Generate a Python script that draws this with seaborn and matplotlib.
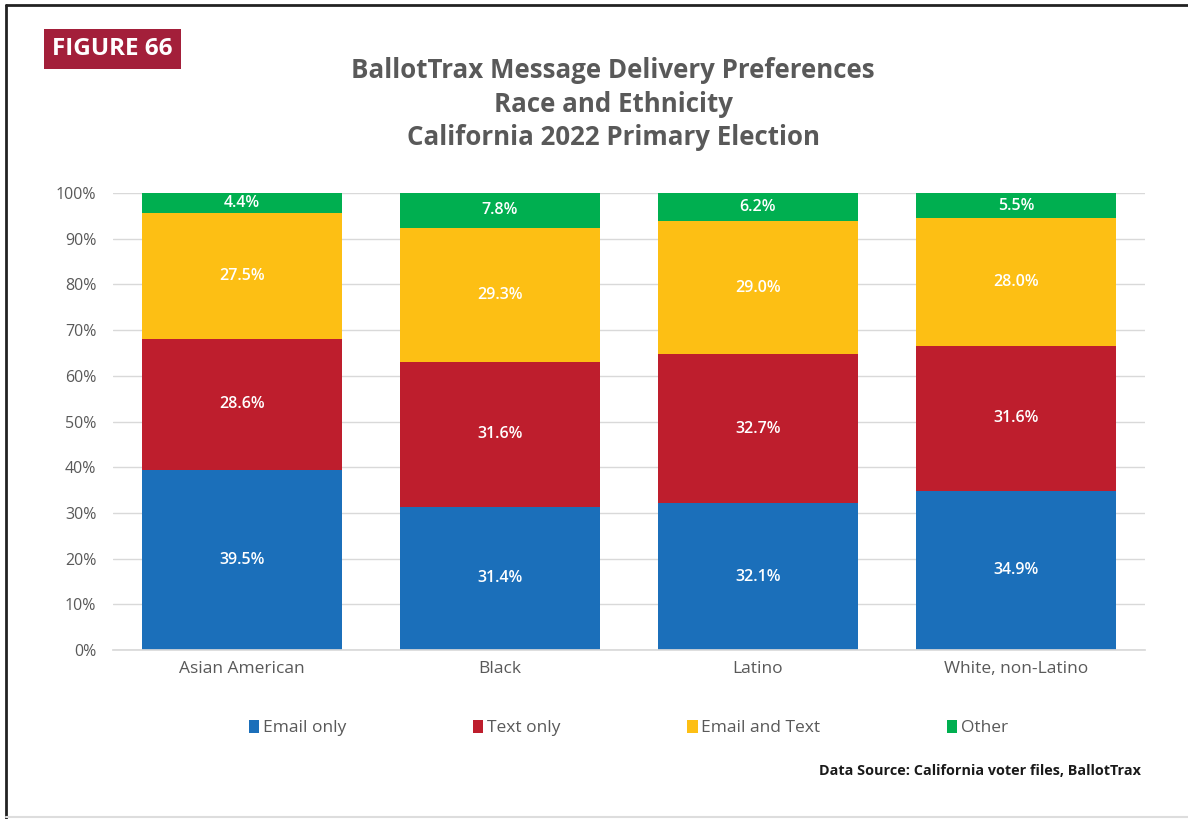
import pandas as pd
import matplotlib.pyplot as plt
import seaborn as sns
from matplotlib.patches import Patch

# Chart data
groups = ['Asian American', 'Black', 'Latino', 'White, non-Latino']
series = ['Email only', 'Text only', 'Email and Text', 'Other']
email_only = [39.5, 31.4, 32.1, 34.9]
text_only = [28.6, 31.6, 32.7, 31.6]
email_and_text = [27.5, 29.3, 29.0, 28.0]
other = [4.4, 7.8, 6.2, 5.5]
colors = ['#1B6FBA', '#BE1E2D', '#FDBF14', '#00AF50']

df = pd.DataFrame({'Group': groups, 'Email only': email_only, 'Text only': text_only,
                   'Email and Text': email_and_text, 'Other': other})
cum = df[series].cumsum(axis=1)
cum['Group'] = df['Group']

sns.set_theme(style='white')
plt.rcParams['font.family'] = ['Open Sans', 'DejaVu Sans']

fig = plt.figure(figsize=(11.88, 8.19), dpi=100)
ax = fig.add_axes([0.0951, 0.2063, 0.8687, 0.558])

# Stacked bars: draw cumulative totals from top series down
for s, c in reversed(list(zip(series, colors))):
    sns.barplot(x='Group', y=s, data=cum, color=c, width=0.775, saturation=1,
                linewidth=0, ax=ax, order=groups)

# Segment labels
for i in range(len(groups)):
    bottom = 0
    for s in series:
        v = df.loc[i, s]
        ax.text(i, bottom + v / 2, f'{v:.1f}%', ha='center', va='center',
                color='white', fontsize=11.5, fontweight='semibold')
        bottom += v

ax.set_xlim(-0.5, 3.5)
ax.set_ylim(0, 100)
ax.set_yticks(range(0, 101, 10))
ax.set_yticklabels([f'{t}%' for t in range(0, 101, 10)])
ax.set_xlabel('')
ax.set_ylabel('')
ax.tick_params(axis='both', colors='#595959', labelsize=11.5, length=0)
ax.tick_params(axis='y', pad=12)
ax.tick_params(axis='x', pad=8, labelsize=12.5)
for lbl in ax.get_xticklabels():
    lbl.set_fontweight('medium')
ax.yaxis.grid(True, color='#D9D9D9', linewidth=1)
ax.set_axisbelow(True)
for sp in ['top', 'right', 'left']:
    ax.spines[sp].set_visible(False)
ax.spines['bottom'].set_color('#D9D9D9')

# Title
fig.text(0.516, 0.873, 'BallotTrax Message Delivery Preferences\nRace and Ethnicity\nCalifornia 2022 Primary Election',
         ha='center', va='center', fontsize=18.6, fontweight='bold', color='#595959', linespacing=1.3)

# Figure label
fig.text(0.0945, 0.940, 'FIGURE 66', ha='center', va='center', fontsize=17.5, fontweight='bold',
         color='white', bbox=dict(boxstyle='square,pad=0.33', facecolor='#A31F3A', edgecolor='none'))

# Legend
handles = [Patch(facecolor=c, edgecolor='none') for c in colors]
fig.legend(handles, series, loc='center', bbox_to_anchor=(0.529, 0.111), ncol=4, frameon=False,
           handlelength=0.6, handleheight=0.8, handletextpad=0.2, columnspacing=7.3,
           fontsize=12.5, labelcolor='#595959')

# Source
fig.text(0.96, 0.059, 'Data Source: California voter files, BallotTrax', ha='right', va='center',
         fontsize=10.4, fontweight='bold', color='#1A1A1A')

# Page frame
fig.add_artist(plt.Line2D([0.005, 1.0], [0.994, 0.994], color='#222222', linewidth=2, transform=fig.transFigure))
fig.add_artist(plt.Line2D([0.005, 0.005], [0.0, 0.994], color='#222222', linewidth=2, transform=fig.transFigure))
fig.add_artist(plt.Line2D([0.005, 1.0], [0.002, 0.002], color='#DDDDDD', linewidth=1.5, transform=fig.transFigure))

fig.savefig('out.png', dpi=100)
